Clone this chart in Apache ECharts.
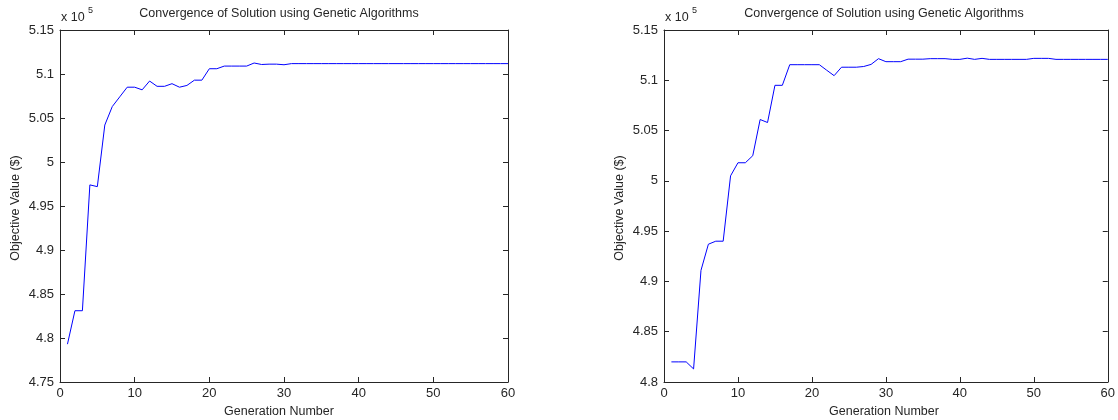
<!DOCTYPE html>
<html>
<head>
<meta charset="utf-8">
<script src="https://cdn.jsdelivr.net/npm/echarts@6/dist/echarts.min.js"></script>
<style>
html,body{margin:0;padding:0;background:#fff;}
#c{width:1118px;height:420px;}
</style>
</head>
<body>
<div id="c"></div>
<script>
const generations = [1,2,3,4,5,6,7,8,9,10,11,12,13,14,15,16,17,18,19,20,21,22,23,24,25,26,27,28,29,30,31,32,33,34,35,36,37,38,39,40,41,42,43,44,45,46,47,48,49,50,51,52,53,54,55,56,57,58,59,60];
const titleText = 'Convergence of Solution using Genetic Algorithms';
const xLabel = 'Generation Number';
const yLabel = 'Objective Value ($)';
const scaleLabel = 'x 10';
const scaleExp = '5';

// Objective values (x 10^5), left run
const leftValues = [4.793,4.831,4.831,4.974,4.972,5.042,5.063,5.074,5.085,5.085,
  5.082,5.092,5.086,5.086,5.089,5.085,5.087,5.093,5.093,5.106,
  5.106,5.109,5.109,5.109,5.109,5.1125,5.1108,5.1112,5.1112,5.1105,
  5.1118,5.1118,5.1118,5.1118,5.1118,5.1118,5.1118,5.1118,5.1118,5.1118,
  5.1118,5.1118,5.1118,5.1118,5.1118,5.1118,5.1118,5.1118,5.1118,5.1118,
  5.1118,5.1118,5.1118,5.1118,5.1118,5.1118,5.1118,5.1118,5.1118,5.1118];

// Objective values (x 10^5), right run
const rightValues = [4.820,4.820,4.820,4.813,4.911,4.937,4.940,4.940,5.005,5.018,
  5.018,5.025,5.061,5.058,5.095,5.095,5.1155,5.1155,5.1155,5.1155,
  5.1155,5.110,5.1046,5.113,5.113,5.113,5.1137,5.1158,5.1215,5.1185,
  5.1185,5.1185,5.121,5.121,5.121,5.1215,5.1215,5.1215,5.1208,5.1208,
  5.122,5.1208,5.1218,5.1208,5.1208,5.1208,5.1208,5.1208,5.1208,5.1218,
  5.1218,5.1218,5.1208,5.1208,5.1208,5.1208,5.1208,5.1208,5.1208,5.1208];

const panels = [
  {values: leftValues, left: 60, width: 448, yMin: 4.75, yMax: 5.15, textCx: 279},
  {values: rightValues, left: 664, width: 446, yMin: 4.8, yMax: 5.15, textCx: 884}
];
const TOP = 30, HEIGHT = 352;
const FONT = 'Liberation Sans, Arial, sans-serif';
const TXT = '#262626';
const AX = '#262626';

const chart = echarts.init(document.getElementById('c'), null, {renderer: 'canvas'});
const grid = [], xAxis = [], yAxis = [], series = [], graphic = [];
panels.forEach((p, i) => {
  grid.push({left: p.left, top: TOP, width: p.width, height: HEIGHT, show: false});
  const tickStyle = {show: true, inside: true, length: 5, lineStyle: {color: AX, width: 1}};
  const lineStyle = {show: true, onZero: false, lineStyle: {color: AX, width: 1}};
  xAxis.push({type: 'value', gridIndex: i, position: 'bottom', min: 0, max: 60, interval: 10,
    axisLine: lineStyle, axisTick: tickStyle, splitLine: {show: false},
    axisLabel: {color: TXT, fontFamily: FONT, fontSize: 13, margin: 5}});
  xAxis.push({type: 'value', gridIndex: i, position: 'top', min: 0, max: 60, interval: 10,
    axisLine: lineStyle, axisTick: tickStyle, splitLine: {show: false}, axisLabel: {show: false}});
  const fmt = v => String(+v.toFixed(2));
  yAxis.push({type: 'value', gridIndex: i, position: 'left', min: p.yMin, max: p.yMax, interval: 0.05,
    axisLine: lineStyle, axisTick: tickStyle, splitLine: {show: false},
    axisLabel: {color: TXT, fontFamily: FONT, fontSize: 13, margin: 6, formatter: fmt}});
  yAxis.push({type: 'value', gridIndex: i, position: 'right', min: p.yMin, max: p.yMax, interval: 0.05,
    axisLine: lineStyle, axisTick: tickStyle, splitLine: {show: false}, axisLabel: {show: false}});
  series.push({type: 'line', xAxisIndex: i * 2, yAxisIndex: i * 2, symbol: 'none', animation: false,
    lineStyle: {color: '#0000ff', width: 1}, data: generations.map((g, k) => [g, p.values[k]])});
  graphic.push({type: 'text', x: p.textCx, y: 14, style: {text: titleText, fill: TXT, font: '12.5px ' + FONT, textAlign: 'center', textVerticalAlign: 'middle'}});
  graphic.push({type: 'text', x: p.textCx, y: 412, style: {text: xLabel, fill: TXT, font: '12.5px ' + FONT, textAlign: 'center', textVerticalAlign: 'middle'}});
  graphic.push({type: 'text', x: p.left - 44, y: 208, rotation: Math.PI / 2,
    style: {text: yLabel, fill: TXT, font: '12.5px ' + FONT, textAlign: 'center', textVerticalAlign: 'middle'}});
  graphic.push({type: 'text', x: p.left + 1, y: 18, style: {text: scaleLabel, fill: TXT, font: '12.5px ' + FONT, textVerticalAlign: 'middle'}});
  graphic.push({type: 'text', x: p.left + 28, y: 11, style: {text: scaleExp, fill: TXT, font: '9px ' + FONT, textVerticalAlign: 'middle'}});
});
chart.setOption({animation: false, grid, xAxis, yAxis, series, graphic});
</script>
</body>
</html>
